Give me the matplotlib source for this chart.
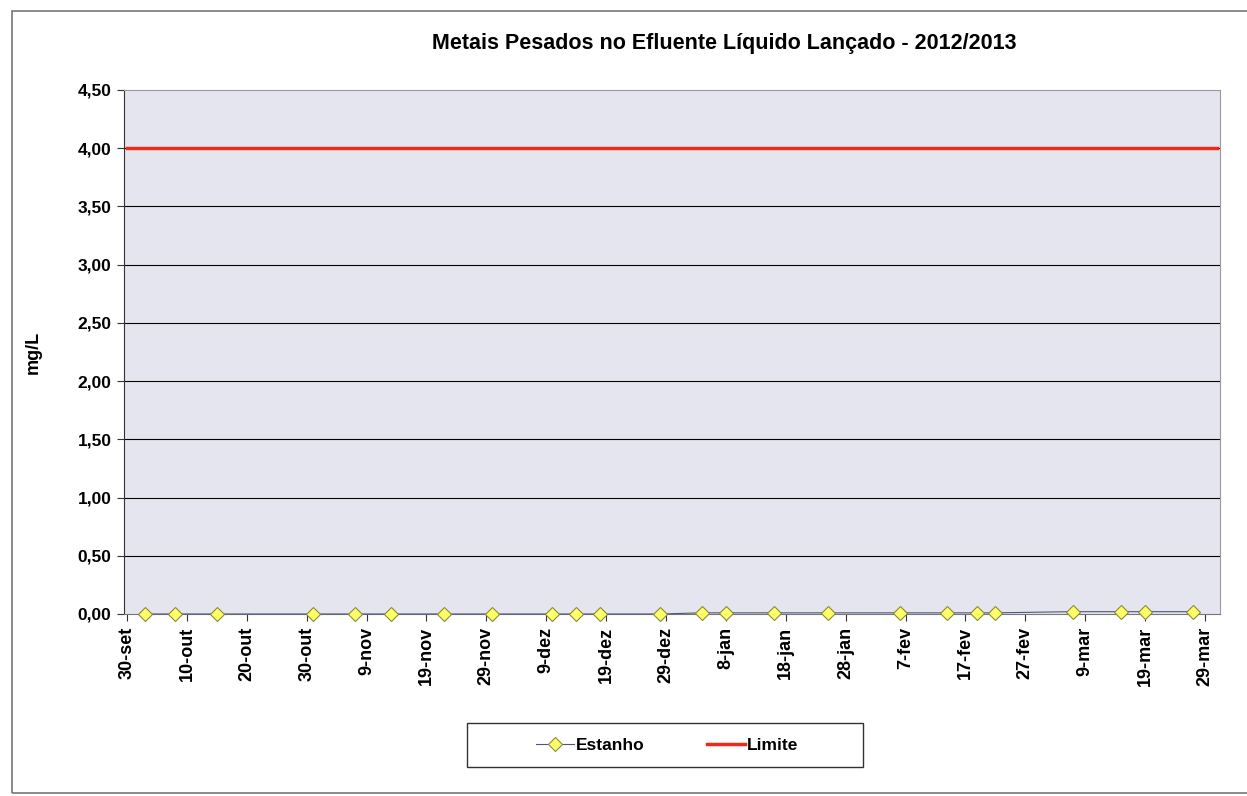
import datetime as dt
import matplotlib
matplotlib.use('Agg')
import matplotlib.pyplot as plt
from matplotlib.patches import Rectangle
from matplotlib.ticker import FuncFormatter

plt.rcParams['font.family'] = ['Liberation Sans', 'DejaVu Sans']

# dados
datas_estanho = ['2012-10-03', '2012-10-08', '2012-10-15', '2012-10-31', '2012-11-07',
                 '2012-11-13', '2012-11-22', '2012-11-30', '2012-12-10', '2012-12-14',
                 '2012-12-18', '2012-12-28', '2013-01-04', '2013-01-08', '2013-01-16',
                 '2013-01-25', '2013-02-06', '2013-02-14', '2013-02-19', '2013-02-22',
                 '2013-03-07', '2013-03-15', '2013-03-19', '2013-03-27']
estanho = [0.00, 0.00, 0.00, 0.00, 0.00, 0.00, 0.00, 0.00, 0.00, 0.00,
           0.00, 0.00, 0.01, 0.01, 0.01, 0.01, 0.01, 0.01, 0.01, 0.01,
           0.02, 0.02, 0.02, 0.02]
limite_datas = ['2012-09-30', '2013-03-31']
limite = [4.0, 4.0]
meses = ['jan', 'fev', 'mar', 'abr', 'mai', 'jun', 'jul', 'ago', 'set', 'out', 'nov', 'dez']

d_est = [dt.datetime.strptime(s, '%Y-%m-%d') for s in datas_estanho]
d_lim = [dt.datetime.strptime(s, '%Y-%m-%d') for s in limite_datas]

W, H = 1247, 796
fig = plt.figure(figsize=(W/100, H/100), dpi=100)
# moldura exterior
fig.patches.append(Rectangle((12/W, 1-793/H), 1.05, (793-11)/H, transform=fig.transFigure,
                             fill=False, edgecolor='#777777', linewidth=1.2))
# caixa da legenda
fig.patches.append(Rectangle((467/W, 1-767/H), (863-467)/W, (767-723)/H, transform=fig.transFigure,
                             fill=False, edgecolor='#333333', linewidth=1.0, zorder=5))

ax = fig.add_axes([124/W, 1-614/H, (1220-124)/W, (614-90)/H])
ax.set_facecolor('#E5E5EF')

ax.set_ylim(0, 4.5)
ax.set_yticks([i*0.5 for i in range(10)])
ax.yaxis.set_major_formatter(FuncFormatter(lambda v, p: ('%.2f' % v).replace('.', ',')))
for y in [i*0.5 for i in range(1, 9)]:
    ax.axhline(y, color='black', linewidth=0.8, zorder=1)

ax.plot(d_lim, limite, color='#EE2A1B', linewidth=2.5, label='Limite', zorder=3)
ax.plot(d_est, estanho, color='#555577', linewidth=0.8, marker='D', markersize=7.5,
        markerfacecolor='#FFFF66', markeredgecolor='#8A8A3A', markeredgewidth=0.8,
        label='Estanho', zorder=4, clip_on=False)

ax.set_xlim(dt.datetime(2012, 9, 29, 12), dt.datetime(2013, 3, 31, 12))
ticks = [dt.datetime(2012, 9, 30) + dt.timedelta(days=10*i) for i in range(19)]
ax.set_xticks(ticks)
ax.set_xticklabels(['%d-%s' % (t.day, meses[t.month-1]) for t in ticks],
                   rotation=90, fontsize=13, fontweight='bold')
for lab in ax.get_yticklabels():
    lab.set_fontsize(12.5)
    lab.set_fontweight('bold')
ax.tick_params(axis='both', direction='out', length=5, color='#333333', pad=4)

ax.spines['left'].set_color('#333333')
ax.spines['bottom'].set_color('#777777')
ax.spines['top'].set_color('#999999')
ax.spines['right'].set_color('#999999')

ax.set_ylabel('mg/L', fontsize=13, fontweight='bold', labelpad=26)
fig.text(724/W, 1-44/H, 'Metais Pesados no Efluente Líquido Lançado - 2012/2013',
         ha='center', va='center', fontsize=15.5, fontweight='bold')

h, l = ax.get_legend_handles_labels()
leg = fig.legend(h[::-1], l[::-1], loc='center', bbox_to_anchor=(667/W, 1-745/H),
                 ncol=2, frameon=False, prop={'weight': 'bold', 'size': 12.5},
                 handlelength=2.2, columnspacing=3.6, handletextpad=0.1)

fig.savefig('out.png', dpi=100)
